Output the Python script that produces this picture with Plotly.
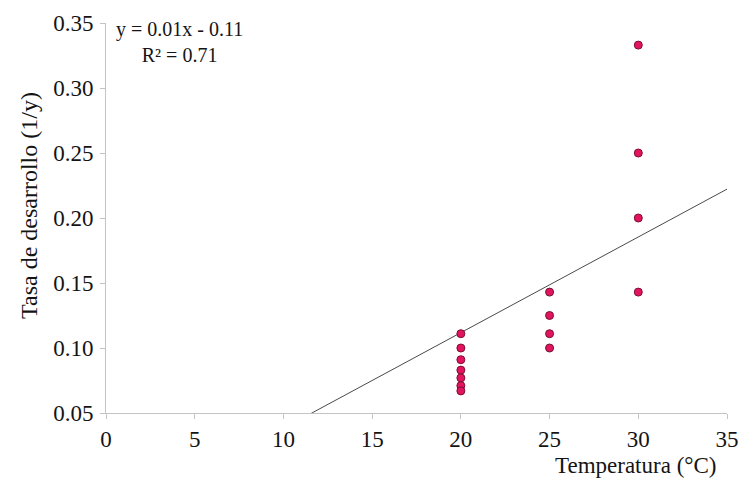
import plotly.graph_objects as go

# Development rate (1/days) measured at each rearing temperature
temperatura = [20, 20, 20, 20, 20, 20, 20,
               25, 25, 25, 25,
               30, 30, 30, 30]
tasa = [0.111, 0.100, 0.091, 0.083, 0.077, 0.071, 0.067,
        0.143, 0.125, 0.111, 0.100,
        0.333, 0.250, 0.200, 0.143]

# Linear trend as plotted
trend_slope = 0.00736
trend_intercept = -0.0354
trend_x = [0, 35]

x_ticks = [0, 5, 10, 15, 20, 25, 30, 35]
y_ticks = [0.05, 0.10, 0.15, 0.20, 0.25, 0.30, 0.35]

FONT = "Liberation Serif, Times New Roman, serif"
AXIS_GRAY = "#c4c4c4"
TEXT = "#141414"

fig = go.Figure()

fig.add_trace(go.Scatter(
    x=trend_x,
    y=[trend_slope * x + trend_intercept for x in trend_x],
    mode="lines",
    line=dict(color="#4a4a4a", width=1),
    hoverinfo="skip",
    showlegend=False,
))

fig.add_trace(go.Scatter(
    x=temperatura,
    y=tasa,
    mode="markers",
    marker=dict(size=8, color="#e2145f", line=dict(color="#7a1030", width=1)),
    cliponaxis=False,
    showlegend=False,
))

fig.update_layout(
    width=742,
    height=482,
    margin=dict(l=106, r=15, t=23, b=69),
    paper_bgcolor="white",
    plot_bgcolor="white",
    font=dict(family=FONT, size=23, color=TEXT),
    xaxis=dict(
        range=[0, 35],
        tickvals=x_ticks,
        ticktext=[str(v) for v in x_ticks],
        automargin=False,
        showgrid=False,
        zeroline=False,
        showline=True,
        linecolor=AXIS_GRAY,
        linewidth=1,
        ticks="outside",
        ticklen=5,
        tickcolor=AXIS_GRAY,
        tickfont=dict(family=FONT, size=23, color=TEXT),
    ),
    yaxis=dict(
        range=[0.05, 0.35],
        tickvals=y_ticks,
        ticktext=[f"{v:.2f}" for v in y_ticks],
        automargin=False,
        showgrid=False,
        zeroline=False,
        showline=True,
        linecolor=AXIS_GRAY,
        linewidth=1,
        ticks="outside",
        ticklen=5,
        tickcolor=AXIS_GRAY,
        ticklabelstandoff=2,
        tickfont=dict(family=FONT, size=23, color=TEXT),
    ),
    annotations=[
        dict(
            text="Temperatura (°C)",
            xref="paper", yref="paper",
            x=(718 - 106) / 621, y=-(465 - 413) / 390,
            xanchor="right", yanchor="middle",
            showarrow=False,
            font=dict(family=FONT, size=23, color=TEXT),
        ),
        dict(
            text="Tasa de desarrollo (1/y)",
            xref="paper", yref="paper",
            x=-(106 - 29) / 621, y=(413 - 206) / 390,
            xanchor="center", yanchor="middle",
            textangle=-90,
            showarrow=False,
            font=dict(family=FONT, size=24, color=TEXT),
        ),
        dict(
            text="y = 0.01x - 0.11<br>R² = 0.71",
            xref="paper", yref="paper",
            x=(179 - 106) / 621, y=(413 - 42) / 390,
            xanchor="center", yanchor="middle",
            align="center",
            showarrow=False,
            font=dict(family=FONT, size=20, color=TEXT),
        ),
    ],
)

fig.write_html("out.html")
